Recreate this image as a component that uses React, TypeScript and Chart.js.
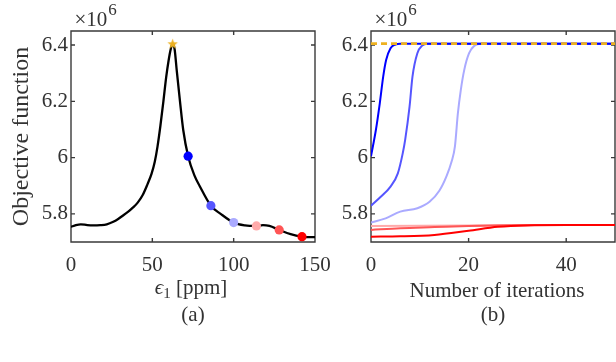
import React, { useEffect, useRef } from "react";
import { Chart, registerables } from "chart.js";

Chart.register(...registerables);

// ---------------- Panel (a): objective vs epsilon_1 ----------------
const epsilonPpm = [0, 3, 6, 10, 14, 18, 22, 26, 29, 32, 35, 38, 41, 44, 47, 49.5, 51.5, 53.2, 55, 56.8, 58.5, 60, 61.3, 62.5, 63.7, 65, 67, 69, 72, 76, 79, 86, 92, 100, 107, 114, 118, 122, 128, 135, 142, 146, 150];
const objectiveValue = [5.754, 5.76, 5.763, 5.76, 5.759, 5.76, 5.763, 5.772, 5.782, 5.794, 5.807, 5.822, 5.84, 5.866, 5.905, 5.942, 5.985, 6.04, 6.115, 6.2, 6.285, 6.345, 6.385, 6.405, 6.385, 6.31, 6.2, 6.098, 6.005, 5.935, 5.9, 5.829, 5.8, 5.769, 5.759, 5.757, 5.76, 5.757, 5.743, 5.728, 5.719, 5.717, 5.717];

const markerPpm = [72, 86, 100, 114, 128, 142];
const markerObjective = [6.005, 5.829, 5.769, 5.757, 5.743, 5.719];
const markerColors = ["#0000ff", "#5555ff", "#aaaaff", "#ffaaaa", "#ff5555", "#ff0000"];

const peakPpm = [62.5];
const peakObjective = [6.405];

// ---------------- Panel (b): objective vs iterations ----------------
const iterBlue1 = [0, 1, 1.8, 2.5, 3.1, 4, 5, 6, 50];
const valBlue1 = [6.005, 6.098, 6.193, 6.288, 6.347, 6.389, 6.402, 6.405, 6.405];
const iterBlue2 = [0, 2, 4, 5.5, 6.5, 7, 7.9, 8.5, 9.5, 10.5, 11.5, 50];
const valBlue2 = [5.829, 5.861, 5.897, 5.944, 6.015, 6.063, 6.181, 6.288, 6.371, 6.398, 6.405, 6.405];
const iterBlue3 = [0, 3, 6, 9.5, 12, 14, 15.5, 16.5, 17.2, 17.8, 18.4, 19.1, 20.1, 21.2, 22.5, 50];
const valBlue3 = [5.769, 5.784, 5.808, 5.82, 5.843, 5.882, 5.935, 5.985, 6.04, 6.157, 6.24, 6.311, 6.371, 6.398, 6.405, 6.405];
const iterRed1 = [0, 10, 20, 30, 50];
const valRed1 = [5.757, 5.758, 5.759, 5.76, 5.76];
const iterRed2 = [0, 6, 13, 20, 26, 33, 50];
const valRed2 = [5.743, 5.749, 5.753, 5.757, 5.759, 5.76, 5.76];
const iterRed3 = [0, 6, 13, 20, 26, 32, 40, 50];
const valRed3 = [5.719, 5.72, 5.725, 5.74, 5.754, 5.759, 5.76, 5.76];
const optimumIter = [0, 50];
const optimumValue = [6.405, 6.405];

// ---------------- Axes ----------------
const xTicksA = [0, 50, 100, 150];
const xTickLabelsA = ["0", "50", "100", "150"];
const xTicksB = [0, 20, 40];
const xTickLabelsB = ["0", "20", "40"];
const yTicks = [5.8, 6, 6.2, 6.4];
const yTickLabels = ["5.8", "6", "6.2", "6.4"];

const SERIF = '"Liberation Serif", "Times New Roman", "DejaVu Serif", serif';
const TEXT = "#333333";
const AXIS = "#3a3a3a";
const ORANGE = "#EDB120";
const TICK_LEN = 4;

function pts(xs: number[], ys: number[]) {
  return xs.map((x, i) => ({ x, y: ys[i] }));
}

function xScale(min: number, max: number, ticks: number[], labels: string[]) {
  return {
    type: "linear",
    min,
    max,
    afterBuildTicks: (s: any) => {
      s.ticks = ticks.map((v) => ({ value: v }));
    },
    afterFit: (s: any) => {
      s.height = 120;
    },
    ticks: {
      color: TEXT,
      font: { family: SERIF, size: 21 },
      padding: 11,
      maxRotation: 0,
      autoSkip: false,
      callback: (_v: any, i: number) => labels[i],
    },
    grid: { display: false, drawTicks: false },
    border: { display: false },
  };
}

function yScale(width: number) {
  return {
    type: "linear",
    min: 5.7,
    max: 6.45,
    afterBuildTicks: (s: any) => {
      s.ticks = yTicks.map((v) => ({ value: v }));
    },
    afterFit: (s: any) => {
      s.width = width;
    },
    ticks: {
      color: TEXT,
      font: { family: SERIF, size: 21 },
      padding: 3,
      autoSkip: false,
      callback: (_v: any, i: number) => yTickLabels[i],
    },
    grid: { display: false, drawTicks: false },
    border: { display: false },
  };
}

const boxPlugin = {
  id: "matlabBox",
  beforeDatasetsDraw(chart: any) {
    const { ctx, chartArea: a } = chart;
    const xs = chart.scales.x;
    const ys = chart.scales.y;
    ctx.save();
    ctx.strokeStyle = AXIS;
    ctx.lineWidth = 1.4;
    ctx.beginPath();
    ctx.rect(a.left, a.top, a.right - a.left, a.bottom - a.top);
    for (const t of xs.ticks) {
      const p = xs.getPixelForValue(t.value);
      ctx.moveTo(p, a.bottom);
      ctx.lineTo(p, a.bottom - TICK_LEN);
      ctx.moveTo(p, a.top);
      ctx.lineTo(p, a.top + TICK_LEN);
    }
    for (const t of ys.ticks) {
      const p = ys.getPixelForValue(t.value);
      ctx.moveTo(a.left, p);
      ctx.lineTo(a.left + TICK_LEN, p);
      ctx.moveTo(a.right, p);
      ctx.lineTo(a.right - TICK_LEN, p);
    }
    ctx.stroke();
    ctx.restore();
  },
};

type Seg = { text: string; size: number; italic?: boolean; dy?: number };
type TextCfg = {
  xTitle: Seg[];
  xTitleBaseline: number;
  xTitleShift: number;
  caption: string;
  captionBaseline: number;
  yTitle?: string;
};

function fontOf(s: Seg) {
  return `${s.italic ? "italic " : ""}${s.size}px ${SERIF}`;
}

function makeTextPlugin(cfg: TextCfg) {
  return {
    id: "panelText",
    afterDraw(chart: any) {
      const { ctx, chartArea: a } = chart;
      ctx.save();
      ctx.fillStyle = TEXT;
      ctx.textBaseline = "alphabetic";
      ctx.textAlign = "left";
      // exponent label
      const ex = a.left + 3.5;
      ctx.font = `21px ${SERIF}`;
      ctx.fillText("\u00d710", ex, 26);
      const w10 = ctx.measureText("\u00d710").width;
      ctx.font = `17px ${SERIF}`;
      ctx.fillText("6", ex + w10 + 1, 15);
      // x title
      const cx = (a.left + a.right) / 2 + cfg.xTitleShift;
      let total = 0;
      const widths = cfg.xTitle.map((s) => {
        ctx.font = fontOf(s);
        const w = ctx.measureText(s.text).width;
        total += w;
        return w;
      });
      let x = cx - total / 2;
      cfg.xTitle.forEach((s, i) => {
        ctx.font = fontOf(s);
        ctx.fillText(s.text, x, cfg.xTitleBaseline + (s.dy || 0));
        x += widths[i];
      });
      // caption
      ctx.textAlign = "center";
      ctx.font = `21px ${SERIF}`;
      ctx.fillText(cfg.caption, (a.left + a.right) / 2, cfg.captionBaseline);
      // y title
      if (cfg.yTitle) {
        ctx.translate(28, (a.top + a.bottom) / 2);
        ctx.rotate(-Math.PI / 2);
        ctx.font = `24px ${SERIF}`;
        ctx.fillText(cfg.yTitle, 0, 0);
      }
      ctx.restore();
    },
  };
}

function makeStar(color: string, R: number) {
  const c = document.createElement("canvas");
  const size = Math.ceil(R * 2 + 2);
  c.width = size;
  c.height = size;
  const g = c.getContext("2d")!;
  g.fillStyle = color;
  g.beginPath();
  for (let k = 0; k < 10; k++) {
    const r = k % 2 === 0 ? R : R * 0.42;
    const ang = -Math.PI / 2 + (k * Math.PI) / 5;
    const px = size / 2 + r * Math.cos(ang);
    const py = size / 2 + r * Math.sin(ang) + 0.5;
    if (k === 0) g.moveTo(px, py);
    else g.lineTo(px, py);
  }
  g.closePath();
  g.fill();
  return c;
}

function lineDs(xs: number[], ys: number[], color: string, width: number, order: number, extra: any = {}) {
  return {
    data: pts(xs, ys),
    showLine: true,
    borderColor: color,
    borderWidth: width,
    pointRadius: 0,
    cubicInterpolationMode: "monotone",
    order,
    ...extra,
  };
}

export default function App() {
  const refA = useRef<HTMLCanvasElement>(null);
  const refB = useRef<HTMLCanvasElement>(null);

  useEffect(() => {
    const star = makeStar(ORANGE, 5.5);
    const chartA = new Chart(refA.current!, {
      type: "scatter",
      data: {
        datasets: [
          {
            data: pts(peakPpm, peakObjective),
            pointStyle: star,
            pointRadius: 6,
            order: 0,
          },
          {
            data: pts(markerPpm, markerObjective),
            pointRadius: 4.6,
            pointBackgroundColor: markerColors,
            pointBorderWidth: 0,
            order: 1,
          },
          lineDs(epsilonPpm, objectiveValue, "#000000", 2.3, 2),
        ],
      } as any,
      options: {
        responsive: false,
        animation: false,
        layout: { padding: { left: 0, right: 301, top: 31, bottom: 0 } },
        plugins: { legend: { display: false }, tooltip: { enabled: false } },
        scales: {
          x: xScale(0, 150, xTicksA, xTickLabelsA),
          y: yScale(71),
        },
      } as any,
      plugins: [
        boxPlugin,
        makeTextPlugin({
          xTitle: [
            { text: "\u03f5", size: 21, italic: true },
            { text: "1", size: 15, dy: 4 },
            { text: " [ppm]", size: 21 },
          ],
          xTitleBaseline: 294,
          xTitleShift: -2,
          caption: "(a)",
          captionBaseline: 321,
          yTitle: "Objective function",
        }),
      ] as any,
    });

    const chartB = new Chart(refB.current!, {
      type: "scatter",
      data: {
        datasets: [
          lineDs(optimumIter, optimumValue, ORANGE, 2.8, 0, { borderDash: [6, 4], cubicInterpolationMode: "default" }),
          lineDs(iterRed3, valRed3, "#ff0000", 2, 1),
          lineDs(iterRed2, valRed2, "#ff5555", 2, 2),
          lineDs(iterRed1, valRed1, "#ffaaaa", 2, 3),
          lineDs(iterBlue1, valBlue1, "#0000ff", 2, 4),
          lineDs(iterBlue2, valBlue2, "#5555ff", 2, 5),
          lineDs(iterBlue3, valBlue3, "#aaaaff", 2, 6),
        ],
      } as any,
      options: {
        responsive: false,
        animation: false,
        layout: { padding: { left: 330, right: 1, top: 31, bottom: 0 } },
        plugins: { legend: { display: false }, tooltip: { enabled: false } },
        scales: {
          x: xScale(0, 50, xTicksB, xTickLabelsB),
          y: yScale(41),
        },
      } as any,
      plugins: [
        boxPlugin,
        makeTextPlugin({
          xTitle: [{ text: "Number of iterations", size: 21 }],
          xTitleBaseline: 297,
          xTitleShift: 4,
          caption: "(b)",
          captionBaseline: 321,
        }),
      ] as any,
    });

    return () => {
      chartA.destroy();
      chartB.destroy();
    };
  }, []);

  return (
    <div style={{ position: "absolute", left: 0, top: 0, width: 616, height: 362, background: "#ffffff" }}>
      <canvas ref={refA} width={616} height={362} style={{ position: "absolute", left: 0, top: 0 }} />
      <canvas ref={refB} width={616} height={362} style={{ position: "absolute", left: 0, top: 0 }} />
    </div>
  );
}
